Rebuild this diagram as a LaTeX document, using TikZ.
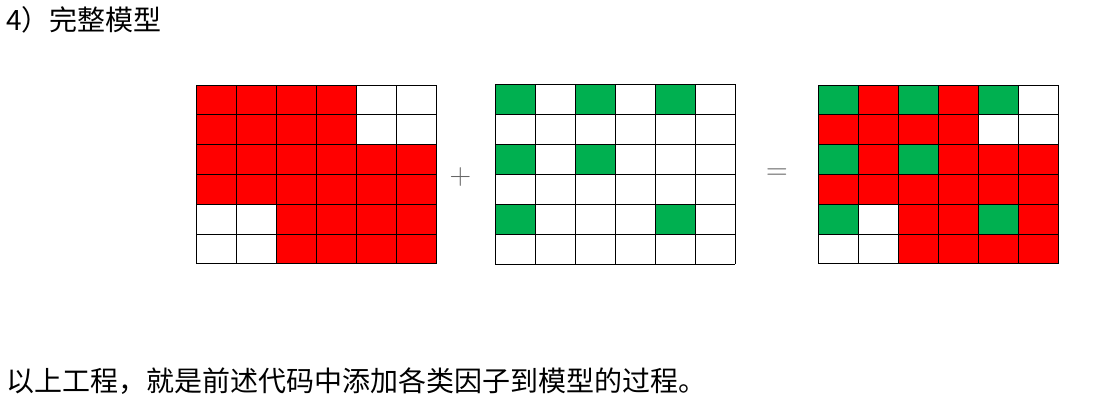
\documentclass[tikz,border=0pt]{standalone}
\usepackage{fontspec}
\newfontfamily\cjk{Noto Sans CJK SC}
\definecolor{cR}{HTML}{FF0000}
\definecolor{cG}{HTML}{00B050}
\definecolor{cW}{HTML}{FFFFFF}
\tikzset{
  gridline/.style={draw=black,line width=0.9pt},
  optext/.style={text=black!60,font=\fontsize{30}{30}\selectfont,inner sep=0pt},
  cjktext/.style={font=\cjk\fontsize{28}{32}\selectfont,inner sep=0pt,anchor=west}
}
\newcommand\drawmygrid[4]{% x0, y0, cell height, rows
  \foreach \rowlist [count=\r from 0] in {#4} {
    \foreach \cc [count=\k from 0] in \rowlist {
      \fill[\cc] ({#1+40*\k},{#2+#3*\r}) rectangle ({#1+40*\k+40},{#2+#3*\r+#3});
    }
  }
  \foreach \k in {0,...,6} {
    \draw[gridline] ({#1+40*\k},{#2}) -- ({#1+40*\k},{#2+6*#3});
  }
  \foreach \r in {0,...,6} {
    \draw[gridline] ({#1},{#2+#3*\r}) -- ({#1+240},{#2+#3*\r});
  }
}
\begin{document}
\begin{tikzpicture}[x=1pt,y=-1pt]
\useasboundingbox (0,0) rectangle (1115,413);
\fill[white] (0,0) rectangle (1115,413);
\node[cjktext] (title) at (6,20) {4）完整模型};
\drawmygrid{196}{85}{29.8}{{cR,cR,cR,cR,cW,cW},{cR,cR,cR,cR,cW,cW},{cR,cR,cR,cR,cR,cR},{cR,cR,cR,cR,cR,cR},{cW,cW,cR,cR,cR,cR},{cW,cW,cR,cR,cR,cR}}
\drawmygrid{495}{84.3}{30}{{cG,cW,cG,cW,cG,cW},{cW,cW,cW,cW,cW,cW},{cG,cW,cG,cW,cW,cW},{cW,cW,cW,cW,cW,cW},{cG,cW,cW,cW,cG,cW},{cW,cW,cW,cW,cW,cW}}
\drawmygrid{818}{85}{29.8}{{cG,cR,cG,cR,cG,cW},{cR,cR,cR,cR,cW,cW},{cG,cR,cG,cR,cR,cR},{cR,cR,cR,cR,cR,cR},{cG,cW,cR,cR,cG,cR},{cW,cW,cR,cR,cR,cR}}
\node[optext] (plus) at (460.5,177) {+};
\node[optext] (equals) at (777,173.7) {=};
\node[cjktext] (caption) at (6,381) {以上工程，就是前述代码中添加各类因子到模型的过程。};
\end{tikzpicture}
\end{document}
